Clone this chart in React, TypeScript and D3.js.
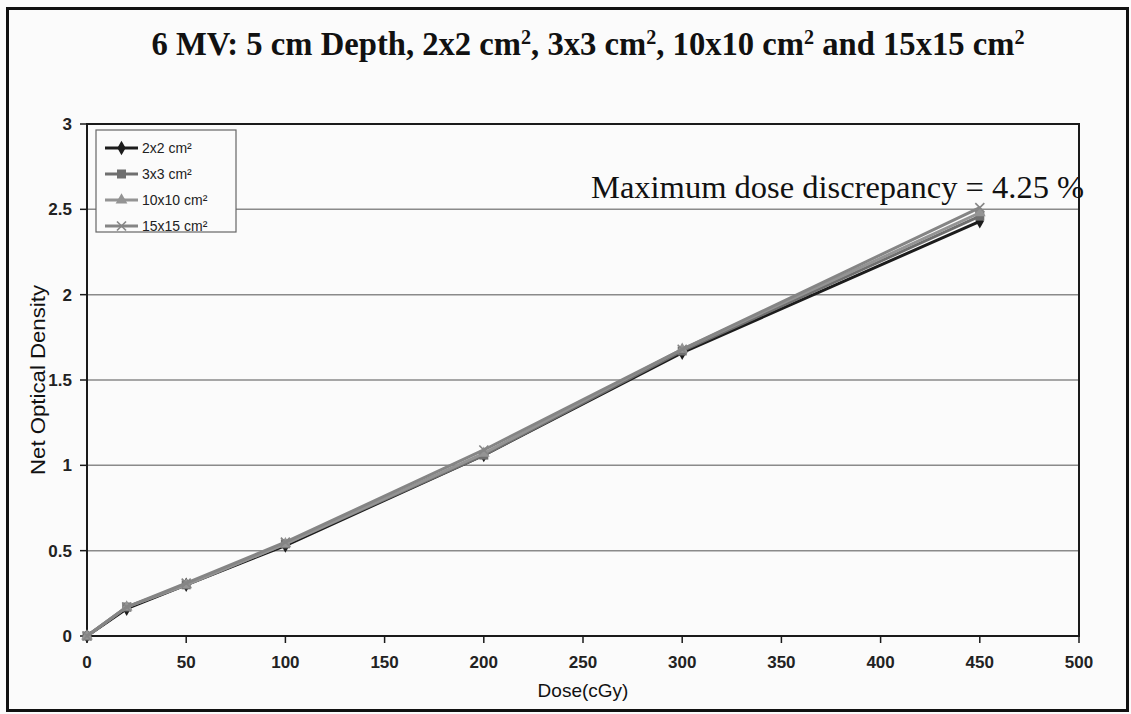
import React from "react";
import * as d3 from "d3";

const doses = [0, 20, 50, 100, 200, 300, 450];
const od2x2 = [0, 0.16, 0.3, 0.53, 1.06, 1.66, 2.43];
const od3x3 = [0, 0.17, 0.3, 0.54, 1.06, 1.67, 2.46];
const od10x10 = [0, 0.17, 0.3, 0.54, 1.07, 1.68, 2.48];
const od15x15 = [0, 0.17, 0.31, 0.55, 1.09, 1.68, 2.51];
const xTicks = [0, 50, 100, 150, 200, 250, 300, 350, 400, 450, 500];
const yTicks = [0, 0.5, 1, 1.5, 2, 2.5, 3];
const titleParts = ["6 MV: 5 cm Depth, 2x2 cm", ", 3x3 cm", ", 10x10 cm", " and 15x15 cm"];

type Series = { name: string; values: number[]; color: string; marker: string };
const series: Series[] = [
  { name: "2x2 cm²", values: od2x2, color: "#1c1c1c", marker: "diamond" },
  { name: "3x3 cm²", values: od3x3, color: "#6f6f6f", marker: "square" },
  { name: "10x10 cm²", values: od10x10, color: "#949494", marker: "triangle" },
  { name: "15x15 cm²", values: od15x15, color: "#858585", marker: "cross" },
];

const W = 1131;
const H = 714;
const M = { left: 87, right: 1079, top: 124, bottom: 636 };
const SANS = "Liberation Sans, Arial, sans-serif";
const SERIF = "Liberation Serif, Times New Roman, serif";

function Marker({ kind, x, y, color }: { kind: string; x: number; y: number; color: string }) {
  if (kind === "diamond") {
    const p = d3.symbol().type(d3.symbolDiamond).size(60)();
    return <path d={p || ""} transform={`translate(${x},${y})`} fill={color} />;
  }
  if (kind === "square") {
    return <rect x={x - 4.5} y={y - 4.5} width={9} height={9} fill={color} />;
  }
  if (kind === "triangle") {
    const p = d3.symbol().type(d3.symbolTriangle).size(60)();
    return <path d={p || ""} transform={`translate(${x},${y})`} fill={color} />;
  }
  const s = 4.5;
  return (
    <g stroke={color} strokeWidth={1.6}>
      <line x1={x - s} y1={y - s} x2={x + s} y2={y + s} />
      <line x1={x - s} y1={y + s} x2={x + s} y2={y - s} />
    </g>
  );
}

export default function App() {
  const x = d3.scaleLinear().domain([0, 500]).range([M.left, M.right]);
  const y = d3.scaleLinear().domain([0, 3]).range([M.bottom, M.top]);
  const line = d3
    .line<number>()
    .x((_, i) => x(doses[i]))
    .y((v) => y(v));

  return (
    <svg
      width={W}
      height={H}
      style={{ position: "absolute", left: 0, top: 0, background: "#fbfbfb" }}
    >
      <rect x={0} y={0} width={W} height={H} fill="#fbfbfb" />
      {/* outer frame */}
      <rect x={7.5} y={8.5} width={1120} height={702} fill="none" stroke="#111" strokeWidth={3} />

      {/* title with superscript units */}
      <text
        x={588}
        y={55}
        textAnchor="middle"
        fontFamily={SERIF}
        fontWeight="bold"
        fontSize={34}
        textLength={873}
        lengthAdjust="spacingAndGlyphs"
        fill="#111"
      >
        {titleParts.map((p, i) => (
          <React.Fragment key={i}>
            <tspan dy={i === 0 ? 0 : 11}>{p}</tspan>
            <tspan dy={-11} fontSize={21}>
              2
            </tspan>
          </React.Fragment>
        ))}
      </text>

      {/* gridlines */}
      {yTicks
        .filter((t) => t > 0 && t < 3)
        .map((t) => (
          <line key={t} x1={M.left} x2={M.right} y1={y(t)} y2={y(t)} stroke="#8a8a8a" strokeWidth={1.5} />
        ))}

      {/* plot border */}
      <rect
        x={M.left}
        y={M.top}
        width={M.right - M.left}
        height={M.bottom - M.top}
        fill="none"
        stroke="#1a1a1a"
        strokeWidth={2}
      />

      {/* y axis ticks and labels */}
      {yTicks.map((t) => (
        <g key={t}>
          <line x1={M.left - 7} x2={M.left} y1={y(t)} y2={y(t)} stroke="#1a1a1a" strokeWidth={1.5} />
          <text
            x={M.left - 15}
            y={y(t)}
            dy="0.36em"
            textAnchor="end"
            fontFamily={SANS}
            fontWeight="bold"
            fontSize={17}
            fill="#222"
          >
            {t}
          </text>
        </g>
      ))}

      {/* x axis ticks and labels */}
      {xTicks.map((t) => (
        <g key={t}>
          <line x1={x(t)} x2={x(t)} y1={M.bottom} y2={M.bottom + 7} stroke="#1a1a1a" strokeWidth={1.5} />
          <text
            x={x(t)}
            y={M.bottom + 32}
            textAnchor="middle"
            fontFamily={SANS}
            fontWeight="bold"
            fontSize={17}
            fill="#222"
          >
            {t}
          </text>
        </g>
      ))}

      {/* axis titles */}
      <text x={583} y={697} textAnchor="middle" fontFamily={SANS} fontSize={19} fill="#111">
        Dose(cGy)
      </text>
      <text
        transform={`translate(45,${(M.top + M.bottom) / 2}) rotate(-90)`}
        textAnchor="middle"
        fontFamily={SANS}
        fontSize={20}
        textLength={190}
        lengthAdjust="spacingAndGlyphs"
        fill="#111"
      >
        Net Optical Density
      </text>

      {/* series lines and markers */}
      {series.map((s) => (
        <g key={s.name}>
          <path d={line(s.values) || ""} fill="none" stroke={s.color} strokeWidth={3} />
          {s.values.map((v, i) => (
            <Marker key={i} kind={s.marker} x={x(doses[i])} y={y(v)} color={s.color} />
          ))}
        </g>
      ))}

      {/* annotation */}
      <text x={591} y={198} fontFamily={SERIF} fontSize={32.5} fill="#111">
        Maximum dose discrepancy = 4.25 %
      </text>

      {/* legend */}
      <rect x={96} y={130} width={140} height={102} fill="#fbfbfb" stroke="#666" strokeWidth={1.2} />
      {series.map((s, i) => {
        const ly = 148 + i * 26;
        return (
          <g key={s.name}>
            <line x1={105} x2={138} y1={ly} y2={ly} stroke={s.color} strokeWidth={3} />
            <Marker kind={s.marker} x={121.5} y={ly} color={s.color} />
            <text x={142} y={ly} dy="0.35em" fontFamily={SANS} fontSize={14} fill="#222">
              {s.name}
            </text>
          </g>
        );
      })}
    </svg>
  );
}
